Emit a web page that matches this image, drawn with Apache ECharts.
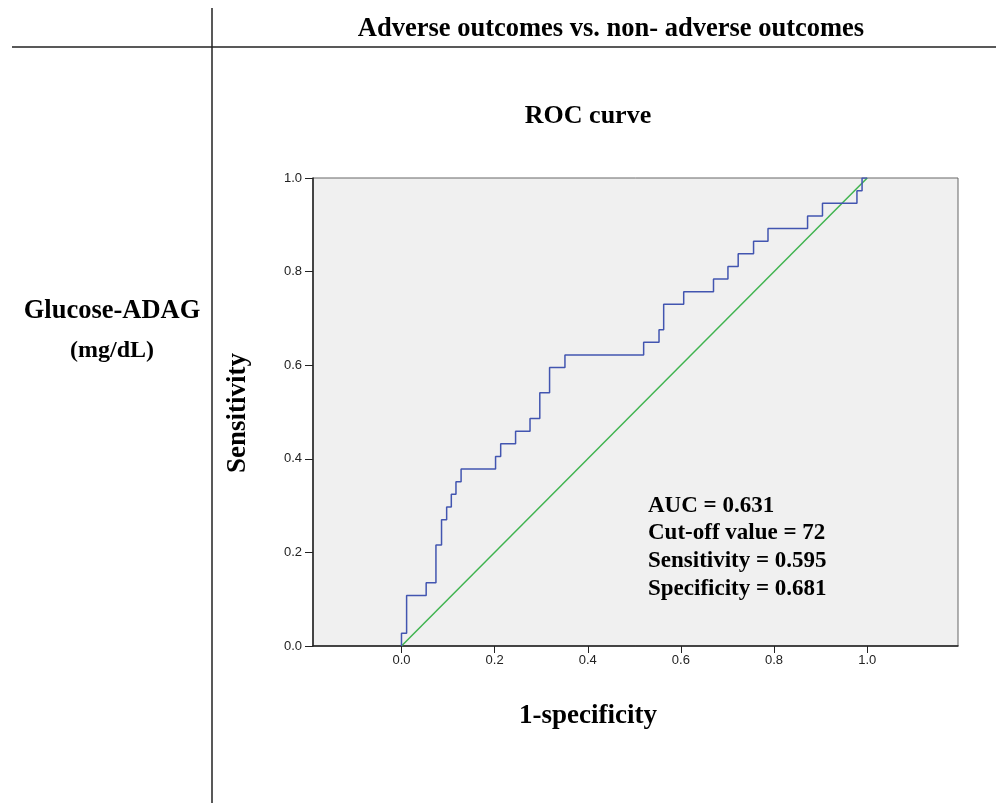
<!DOCTYPE html>
<html><head><meta charset="utf-8">
<script src="https://cdn.jsdelivr.net/npm/echarts@6/dist/echarts.min.js"></script>
<style>html,body{margin:0;padding:0;background:#fff;}#c{width:996px;height:803px;}</style>
</head><body><div id="c"></div>
<script>
// ROC step points: false positive rate where sensitivity jumps, and the sensitivity reached
const fpr = [0, 0.011, 0.053, 0.074, 0.086, 0.097, 0.107, 0.117, 0.128, 0.202, 0.213, 0.245, 0.276, 0.297, 0.318, 0.351, 0.520, 0.553, 0.563, 0.606, 0.670, 0.701, 0.723, 0.756, 0.787, 0.872, 0.904, 0.978, 0.989];
const tpr = [0.027, 0.108, 0.135, 0.216, 0.270, 0.297, 0.324, 0.351, 0.378, 0.405, 0.432, 0.459, 0.486, 0.541, 0.595, 0.622, 0.649, 0.676, 0.730, 0.757, 0.784, 0.811, 0.838, 0.865, 0.892, 0.919, 0.946, 0.973, 1.0];
const refLine = [[0, 0], [1, 1]];
const tickValues = [0, 0.2, 0.4, 0.6, 0.8, 1.0];
const statLines = ['AUC = 0.631', 'Cut-off value = 72', 'Sensitivity = 0.595', 'Specificity = 0.681'];

const roc = [[0, 0]];
let prev = 0;
for (let i = 0; i < fpr.length; i++) {
  roc.push([fpr[i], prev]);
  roc.push([fpr[i], tpr[i]]);
  prev = tpr[i];
}
roc.push([1, 1]);

const serif = '"Liberation Serif", "Times New Roman", serif';
const narrow = '"Liberation Sans Narrow", "Liberation Sans", Arial, sans-serif';
const chart = echarts.init(document.getElementById('c'));
chart.setOption({
  animation: false,
  backgroundColor: '#fff',
  grid: { left: 313, top: 178, width: 645, height: 468, show: true, backgroundColor: '#f0f0f0', borderColor: '#666', borderWidth: 1 },
  xAxis: {
    type: 'value', min: -0.19, max: 1.195,
    axisLine: { show: true, onZero: false, lineStyle: { color: '#222', width: 1.5 } },
    axisTick: { show: true, customValues: tickValues, length: 7, lineStyle: { color: '#222' } },
    axisLabel: { customValues: tickValues, formatter: v => v.toFixed(1), fontFamily: narrow, fontSize: 13, color: '#222', margin: 8 },
    splitLine: { show: false }
  },
  yAxis: {
    type: 'value', min: 0, max: 1, interval: 0.2,
    axisLine: { show: true, onZero: false, lineStyle: { color: '#222', width: 1.5 } },
    axisTick: { show: true, length: 8, lineStyle: { color: '#222' } },
    axisLabel: { formatter: v => v.toFixed(1), fontFamily: narrow, fontSize: 13, color: '#222', margin: 11 },
    splitLine: { show: false }
  },
  series: [
    { type: 'line', data: refLine, showSymbol: false, lineStyle: { color: '#3fb34f', width: 1.5 }, z: 2 },
    { type: 'line', data: roc, showSymbol: false, lineStyle: { color: '#4255b0', width: 1.5 }, z: 3 }
  ],
  graphic: [
    { type: 'line', shape: { x1: 12, y1: 47, x2: 996, y2: 47 }, style: { stroke: '#222', lineWidth: 1.5 } },
    { type: 'line', shape: { x1: 212, y1: 8, x2: 212, y2: 803 }, style: { stroke: '#222', lineWidth: 1.5 } },
    { type: 'text', x: 611, y: 29, style: { text: 'Adverse outcomes vs. non- adverse outcomes', font: 'bold 26.5px ' + serif, fill: '#000', textAlign: 'center', textVerticalAlign: 'middle' } },
    { type: 'text', x: 588, y: 116, style: { text: 'ROC curve', font: 'bold 26px ' + serif, fill: '#000', textAlign: 'center', textVerticalAlign: 'middle' } },
    { type: 'text', x: 112, y: 311, style: { text: 'Glucose-ADAG', font: 'bold 26.5px ' + serif, fill: '#000', textAlign: 'center', textVerticalAlign: 'middle' } },
    { type: 'text', x: 112, y: 351, style: { text: '(mg/dL)', font: 'bold 24px ' + serif, fill: '#000', textAlign: 'center', textVerticalAlign: 'middle' } },
    { type: 'text', x: 238, y: 413, rotation: Math.PI / 2, style: { text: 'Sensitivity', font: 'bold 27px ' + serif, fill: '#000', textAlign: 'center', textVerticalAlign: 'middle' } },
    { type: 'text', x: 588, y: 716, style: { text: '1-specificity', font: 'bold 27px ' + serif, fill: '#000', textAlign: 'center', textVerticalAlign: 'middle' } },
    { type: 'text', x: 648, y: 492, style: { text: statLines.join('\n'), font: 'bold 23px ' + serif, lineHeight: 27.7, fill: '#000', textAlign: 'left', textVerticalAlign: 'top' } }
  ]
});
</script></body></html>
